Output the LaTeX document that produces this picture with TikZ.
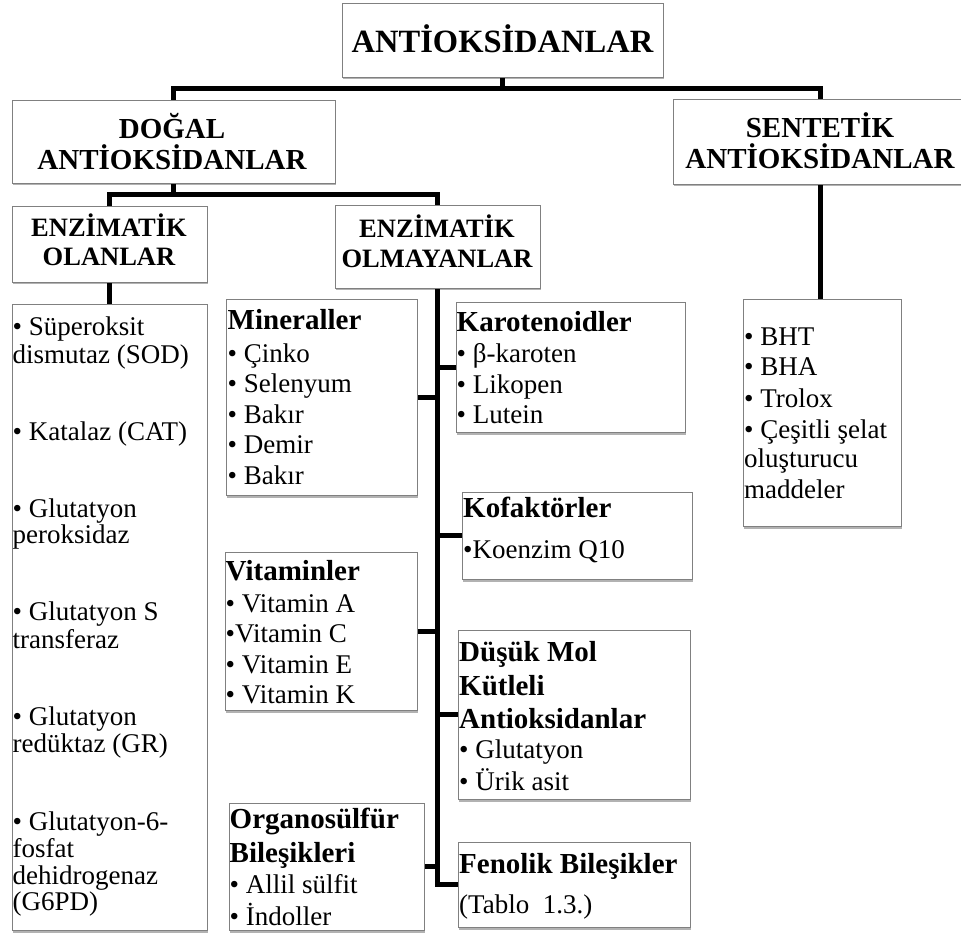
\documentclass[tikz,border=0pt]{standalone}
\usepackage{fontspec}
\setmainfont{Liberation Serif}
\usetikzlibrary{shadows,backgrounds}
\newcommand\hd{\fontsize{29}{31}\selectfont\bfseries}
\newcommand\txtlines[3]{%
  \foreach \yy/\ltext [count=\i] in {#3} {\node[txt] (#1-\i) at (#2,\yy) {\ltext};}}
\tikzset{
  box/.style={draw=black!50, line width=0.9pt, fill=white, inner sep=0pt,
    drop shadow={shadow xshift=1.2pt, shadow yshift=-2.5pt, fill=black, opacity=0.3}},
  conn/.style={line width=5pt, line join=miter, draw=black},
  txt/.style={anchor=base west, inner sep=0pt},
  head/.style={anchor=base, inner sep=0pt, font=\fontsize{29}{31}\selectfont\bfseries},
  subhead/.style={anchor=base, inner sep=0pt, font=\fontsize{26.5}{29}\selectfont\bfseries}
}
\begin{document}
\begin{tikzpicture}[x=1pt,y=-1pt,font=\fontsize{27}{30}\selectfont]
\useasboundingbox (0,0) rectangle (961,933);
% boxes
\node[box, minimum width=321pt, minimum height=74pt] (top) at (502.5,40) {};
\node[box, minimum width=323pt, minimum height=83pt] (dogal) at (173.5,141.5) {};
\node[box, minimum width=295pt, minimum height=85pt] (sent) at (820.5,141.5) {};
\node[box, minimum width=195pt, minimum height=76pt] (enzo) at (109.5,244) {};
\node[box, minimum width=205pt, minimum height=83pt] (enzm) at (437.5,246.5) {};
\node[box, minimum width=195pt, minimum height=626pt] (enzlist) at (109.5,617) {};
\node[box, minimum width=191pt, minimum height=196pt] (min) at (321.5,397) {};
\node[box, minimum width=229pt, minimum height=130pt] (karo) at (570.5,367) {};
\node[box, minimum width=158pt, minimum height=227pt] (sentlist) at (822,412.5) {};
\node[box, minimum width=230pt, minimum height=87pt] (kof) at (577,535.5) {};
\node[box, minimum width=192pt, minimum height=158pt] (vit) at (321,631) {};
\node[box, minimum width=232pt, minimum height=169pt] (dusuk) at (574,714.5) {};
\node[box, minimum width=195pt, minimum height=127pt] (org) at (326.5,866.5) {};
\node[box, minimum width=232pt, minimum height=85pt] (fen) at (574,884.5) {};
% headings
\node[anchor=base, inner sep=0pt, font=\fontsize{32.5}{34}\selectfont\bfseries] (toptxt) at (502.5,53) {ANTİOKSİDANLAR};
\node[head] (dogal1) at (172,139) {DOĞAL};
\node[head] (dogal2) at (172,170) {ANTİOKSİDANLAR};
\node[head] (sent1) at (820,138) {SENTETİK};
\node[head] (sent2) at (820,169) {ANTİOKSİDANLAR};
\node[subhead] (enzo1) at (109,237) {ENZİMATİK};
\node[subhead] (enzo2) at (109,266) {OLANLAR};
\node[subhead] (enzm1) at (437,238) {ENZİMATİK};
\node[subhead] (enzm2) at (437,268) {OLMAYANLAR};
% lists
\txtlines{el}{12.5}{335/• Süperoksit, 363/dismutaz (SOD), 440/• Katalaz (CAT), 517/• Glutatyon, 543/peroksidaz, 620/• Glutatyon S, 648/transferaz, 725/• Glutatyon, 752/redüktaz (GR), 830/• Glutatyon-6-, 857/fosfat, 884/dehidrogenaz, 910/(G6PD)}
\txtlines{mi}{227.5}{330/\hd Mineraller, 362/• Çinko, 392/• Selenyum, 423/• Bakır, 453/• Demir, 484/• Bakır}
\txtlines{ka}{456.5}{331/\hd Karotenoidler, 362/• β-karoten, 393/• Likopen, 423/• Lutein}
\txtlines{sl}{744}{345/• BHT, 375/• BHA, 407/• Trolox, 438/• Çeşitli şelat, 467/oluşturucu, 498/maddeler}
\txtlines{ko}{463}{517/\hd Kofaktörler, 558/•Koenzim Q10}
\txtlines{vi}{225.5}{580/\hd Vitaminler, 612/• Vitamin A, 642/•Vitamin C, 673/• Vitamin E, 703/• Vitamin K}
\txtlines{du}{459}{661/\hd Düşük Mol, 695/\hd Kütleli, 728/\hd Antioksidanlar, 758/• Glutatyon, 790/• Ürik asit}
\txtlines{fe}{459}{873/\hd Fenolik Bileşikler, 913/(Tablo\ \ 1.3.)}
\txtlines{or}{229.5}{828/\hd Organosülfür, 862/\hd Bileşikleri, 893/• Allil sülfit, 925/• İndoller}
% connectors
\begin{scope}[on background layer]
\coordinate (j1) at (502.5,89);
\coordinate (j2) at (173.5,195);
\draw[conn] (top.south) -- (j1);
\draw[conn] (dogal.north) |- (j1) -| (sent.north);
\draw[conn] (dogal.south) -- (j2);
\draw[conn] (enzo.north) |- (j2) -| (enzm.north);
\draw[conn] (enzo.south) -- (enzlist.north);
\draw[conn] (sent.south) -- (sent.south |- sentlist.north);
\draw[conn] (enzm.south) |- (fen.west);
\draw[conn] (min.east) -- (min.east -| enzm.south);
\draw[conn] (karo.west) -- (karo.west -| enzm.south);
\draw[conn] (kof.west) -- (kof.west -| enzm.south);
\draw[conn] (vit.east) -- (vit.east -| enzm.south);
\draw[conn] (dusuk.west) -- (dusuk.west -| enzm.south);
\draw[conn] (org.east) -- (org.east -| enzm.south);
\end{scope}
\end{tikzpicture}
\end{document}
